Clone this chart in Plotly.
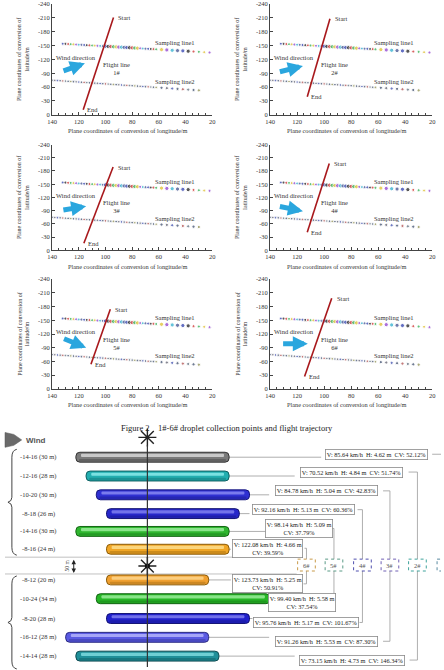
import plotly.graph_objects as go

W, H = 444, 670
SERIF = "Liberation Serif, Times New Roman, serif"

# ---------------- Figure 2 data ----------------
x_ticks = [140, 120, 100, 80, 60, 40, 20]
y_ticks = [0, -30, -60, -90, -120, -150, -180, -210, -240]

line1_x = [132, 130, 128, 126, 124, 122, 120, 118, 116, 114, 112, 110, 108, 106, 104, 102, 100, 98,
           96, 94, 92, 90, 88, 86, 84, 82, 80, 78, 76, 74, 72, 70, 68, 66, 64, 62,
           58, 54, 50, 46, 42, 38, 34, 30, 26, 22]
line1_y = [-154.0, -153.7, -153.3, -153.0, -152.6, -152.3, -151.9, -151.6, -151.2, -150.9, -150.5, -150.2,
           -149.9, -149.5, -149.2, -148.8, -148.5, -148.1, -147.8, -147.4, -147.1, -146.7, -146.4, -146.1,
           -145.7, -145.4, -145.0, -144.7, -144.3, -144.0, -143.6, -143.3, -142.9, -142.6, -142.3, -141.9,
           -141.2, -140.5, -139.8, -139.1, -138.5, -137.8, -137.1, -136.4, -135.7, -135.0]
line2_x = [140, 138, 136, 134, 132, 130, 128, 126, 124, 122, 120, 118, 116, 114, 112, 110, 108, 106, 104, 102,
           100, 98, 96, 94, 92, 90, 88, 86, 84, 82, 80, 78, 76, 74, 72, 70, 68, 66, 64, 62,
           58, 54, 50, 46, 42, 38, 34, 30]
line2_y = [-75.0, -74.6, -74.2, -73.8, -73.4, -73.0, -72.6, -72.2, -71.8, -71.4, -71.0, -70.6, -70.2, -69.8,
           -69.4, -69.0, -68.6, -68.2, -67.8, -67.4, -67.0, -66.6, -66.2, -65.8, -65.4, -65.0, -64.6, -64.2,
           -63.8, -63.4, -63.0, -62.6, -62.2, -61.8, -61.4, -61.0, -60.6, -60.2, -59.8, -59.4,
           -58.6, -57.8, -57.0, -56.2, -55.4, -54.6, -53.8, -53.0]

flight_ids = ["1#", "2#", "3#", "4#", "5#", "6#"]
flight_start_x = [94.0, 95.7, 94.3, 96.2, 96.4, 94.4]
flight_start_y = [-211, -208, -189, -197, -174, -198]
flight_end_x = [116.7, 112.5, 116.2, 112.5, 110.9, 114.5]
flight_end_y = [-11, -39, -16, -41, -54, -27]

wind_tail_x = [132.6, 133.9, 132.7, 133.9, 132.2, 131.5]
wind_tail_y = [-94, -92.5, -91, -100, -111, -98.6]
wind_head_x = [115.4, 115.7, 114.5, 115.7, 114.5, 112.1]
wind_head_y = [-111.7, -106, -100, -89, -90, -98.6]

# ---------------- Diagram data ----------------
upper_left = [-14, -12, -10, -8, -14, -8]
upper_right = [16, 16, 20, 18, 16, 16]
lower_left = [-8, -10, -8, -16, -14]
lower_right = [12, 24, 20, 12, 14]
speed_v = [85.64, 70.52, 84.78, 92.16, 98.14, 122.08, 123.73, 99.40, 95.76, 91.26, 73.15]
height_h = [4.62, 4.84, 5.04, 5.13, 5.09, 4.66, 5.25, 5.58, 5.17, 5.53, 4.73]
cv_pct = [52.12, 51.74, 42.83, 60.36, 37.79, 39.59, 50.91, 37.54, 101.67, 87.30, 146.34]
upper_flight = [1, 2, 3, 4, 5, 6]
lower_flight = [6, 5, 4, 3, 2]

# ---------------- layout helpers ----------------
def px(x):
    return x / W

def py(y):
    return 1 - y / H

cols_px = [(48, 211), (270, 435)]
rows_px = [(0, 112), (142, 249), (278, 389)]

fig = go.Figure()
layout = {}
annotations = []
shapes = []

pt_colors = ["#2233aa", "#111111", "#cc2222", "#22aa44", "#ddbb22", "#8833cc", "#22aacc", "#334488"]
pt2_colors = ["#334466", "#555566", "#3344aa", "#334466", "#aa4444", "#556677", "#334466", "#888844"]
tfont = dict(family=SERIF, size=6.5, color="#333")

for i in range(6):
    r, c = divmod(i, 2)
    xn = "x" if i == 0 else f"x{i+1}"
    yn = "y" if i == 0 else f"y{i+1}"
    xk = "xaxis" if i == 0 else f"xaxis{i+1}"
    yk = "yaxis" if i == 0 else f"yaxis{i+1}"
    (x0, x1), (y0, y1) = cols_px[c], rows_px[r]
    layout[xk] = dict(domain=[px(x0), px(x1)], anchor=yn, range=[140, 20], tickvals=x_ticks,
                      ticktext=[str(v) for v in x_ticks], ticks="inside", ticklen=3, tickcolor="#444",
                      minor=dict(ticks="inside", ticklen=2, dtick=5, tickcolor="#444"),
                      showline=True, linecolor="#444", linewidth=1, showgrid=False, zeroline=False,
                      tickfont=tfont)
    layout[yk] = dict(domain=[py(y1), py(y0)], anchor=xn, range=[0, -240], tickvals=y_ticks,
                      ticktext=[str(v) for v in y_ticks], ticks="inside", ticklen=3, tickcolor="#444",
                      showline=True, linecolor="#444", linewidth=1, showgrid=False, zeroline=False,
                      tickfont=tfont)

    s1 = [4.2 if (76 <= x <= 100 or 38 <= x <= 58) else 3.0 for x in line1_x]
    s2 = [2.6 if x > 60 else 3.2 for x in line2_x]
    fig.add_trace(go.Scatter(x=line1_x, y=line1_y, mode="markers", xaxis=xn, yaxis=yn,
                             marker=dict(size=s1, color=[pt_colors[k % len(pt_colors)] for k in range(len(line1_x))])))
    fig.add_trace(go.Scatter(x=line2_x, y=line2_y, mode="markers", xaxis=xn, yaxis=yn,
                             marker=dict(size=s2, color=[pt2_colors[k % len(pt2_colors)] for k in range(len(line2_x))])))
    fig.add_trace(go.Scatter(x=[flight_start_x[i], flight_end_x[i]], y=[flight_start_y[i], flight_end_y[i]],
                             mode="lines", xaxis=xn, yaxis=yn, line=dict(color="#a8181c", width=1.6)))

    af = dict(family=SERIF, size=6.5, color="#333")
    annotations += [
        dict(x=flight_start_x[i], y=flight_start_y[i], xref=xn, yref=yn, text="Start", showarrow=False,
             xanchor="left", xshift=3, font=af),
        dict(x=flight_end_x[i], y=flight_end_y[i], xref=xn, yref=yn, text="End", showarrow=False,
             xanchor="left", xshift=2, font=af),
        dict(x=92, y=-100, xref=xn, yref=yn, text=f"Flight line<br>{flight_ids[i]}", showarrow=False,
             xanchor="center", font=af),
        dict(x=122, y=-125, xref=xn, yref=yn, text="Wind direction", showarrow=False, xanchor="center", font=af),
        dict(x=48, y=-156, xref=xn, yref=yn, text="Sampling line1", showarrow=False, xanchor="center", font=af),
        dict(x=48, y=-73, xref=xn, yref=yn, text="Sampling line2", showarrow=False, xanchor="center", font=af),
        dict(x=wind_head_x[i], y=wind_head_y[i], ax=wind_tail_x[i], ay=wind_tail_y[i], xref=xn, yref=yn,
             axref=xn, ayref=yn, text="", showarrow=True, arrowhead=2, arrowsize=0.6, arrowwidth=5,
             arrowcolor="#2aa6de", standoff=0),
        dict(x=px((x0 + x1) / 2 - 4), y=py(y1 + 16), xref="paper", yref="paper", xanchor="center",
             yanchor="middle", text="Plane coordinates of conversion of longitude/m", showarrow=False,
             font=dict(family=SERIF, size=6.3, color="#333")),
        dict(x=px(x0 - 29), y=py((y0 + y1) / 2), xref="paper", yref="paper", textangle=-90,
             xanchor="center", yanchor="middle",
             text="Plane coordinates of conversion of<br>latitude/m", showarrow=False,
             font=dict(family=SERIF, size=6.0, color="#333")),
    ]

annotations.append(dict(x=px(226), y=py(428), xref="paper", yref="paper", showarrow=False,
                        xanchor="center", yanchor="middle",
                        text="Figure 2\u00a0\u00a0\u00a0\u00a01#-6# droplet collection points and flight trajectory",
                        font=dict(family=SERIF, size=8.5, color="#222")))

# ---------------- bottom diagram ----------------
X0PX, SCALE = 145, 5.2
def m(xpx):
    return (xpx - X0PX) / SCALE

layout["xaxis7"] = dict(domain=[0, 1], anchor="y7", range=[m(0), m(W)], visible=False)
layout["yaxis7"] = dict(domain=[0, py(437)], anchor="x7", range=[670, 437], visible=False)

upper_y = [458, 477, 496, 515, 533, 551]
lower_y = [582, 601, 621, 640, 659]
row_y = upper_y + lower_y
lefts = upper_left + lower_left
rights = upper_right + lower_right
flights = upper_flight + lower_flight

base_col = ["#7a7a7a", "#22aeb0", "#2f30d2", "#2626ca", "#2fb62f", "#f0a626",
            "#f0a030", "#26b626", "#2222cc", "#5a5ae2", "#1f8f99"]
hi_col = ["#e4e4e4", "#98f2f2", "#9494f6", "#8c8cf4", "#aaf4aa", "#ffe49a",
          "#ffdc98", "#aaf4aa", "#8c8cf4", "#c0c0ff", "#8ae4e8"]
dark_col = ["#333333", "#0e5e60", "#15157a", "#121270", "#136613", "#8a5a08",
            "#8a5a08", "#106010", "#101070", "#2a2a80", "#0c4a50"]

fig.add_trace(go.Bar(orientation="h", y=row_y, base=lefts, x=[r - l for l, r in zip(lefts, rights)],
                     width=10, xaxis="x7", yaxis="y7",
                     marker=dict(color=base_col, line=dict(color=dark_col, width=1))))
fig.add_trace(go.Bar(orientation="h", y=[y - 1.8 for y in row_y], base=[l + 1.0 for l in lefts],
                     x=[r - l - 2.0 for l, r in zip(lefts, rights)], width=3.2, xaxis="x7", yaxis="y7",
                     marker=dict(color=hi_col, opacity=0.75, line=dict(width=0))))
fig.add_trace(go.Bar(orientation="h", y=[y + 3.0 for y in row_y], base=[l + 0.6 for l in lefts],
                     x=[r - l - 1.2 for l, r in zip(lefts, rights)], width=2.4, xaxis="x7", yaxis="y7",
                     marker=dict(color=dark_col, opacity=0.35, line=dict(width=0))))

# row labels
for l, r, y in zip(lefts, rights, row_y):
    annotations.append(dict(x=px(34), y=py(y), xref="paper", yref="paper", showarrow=False,
                            xanchor="center", yanchor="middle",
                            text=f"-{abs(l)}-{r} ({r - l} m)", font=dict(family=SERIF, size=6.5, color="#333")))

# boxes: (left px, right px, center y px)
box_pos = [(322, 435, 455), (295, 411, 473), (269, 385, 492), (249, 359, 511), (266, 333, 530),
           (230, 305, 550), (230, 304, 586), (272, 332, 605), (252, 361, 625), (269, 385, 644),
           (295, 412, 663)]
two_line = {4, 5, 6, 7}
flight_col_px = {1: 449, 2: 420, 3: 392, 4: 364, 5: 335, 6: 307}
flight_box_col = {1: "#5a8aa0", 2: "#3fa39c", 3: "#7060b4", 4: "#4f4fae", 5: "#5a9a86", 6: "#c89a48"}
grey = "#9a9a9a"

for k in range(11):
    bl, br, by = box_pos[k]
    v, h, cv = speed_v[k], height_h[k], cv_pct[k]
    if k in two_line:
        txt = f"V: {v:.2f} km/h\u00a0\u00a0H: {h:.2f} m<br>CV: {cv:.2f}%"
    else:
        txt = f"V: {v:.2f} km/h\u00a0\u00a0H: {h:.2f} m\u00a0\u00a0CV: {cv:.2f}%"
    annotations.append(dict(x=px((bl + br) / 2), y=py(by), xref="paper", yref="paper", showarrow=False,
                            xanchor="center", yanchor="middle",
                            text=txt, bgcolor="white", bordercolor="#8a8a8a", borderwidth=0.8, borderpad=1,
                            font=dict(family=SERIF, size=6.3, color="#222")))
    # connector bar -> box
    shapes.append(dict(type="line", xref="x7", yref="y7", x0=rights[k], x1=m(bl), y0=row_y[k], y1=row_y[k],
                       line=dict(color=grey, width=0.8), layer="below"))
    col = flight_col_px[flights[k]]
    shapes.append(dict(type="line", xref="x7", yref="y7", x0=m(br), x1=m(col), y0=by, y1=by,
                       line=dict(color=grey, width=0.8)))
    ytarget = 561 if k < 6 else 573
    shapes.append(dict(type="line", xref="x7", yref="y7", x0=m(col), x1=m(col), y0=by, y1=ytarget,
                       line=dict(color=grey, width=0.8)))

for f in range(1, 7):
    col = flight_col_px[f]
    shapes.append(dict(type="rect", xref="x7", yref="y7", x0=m(col - 9), x1=m(col + 9), y0=561, y1=573,
                       line=dict(color=flight_box_col[f], width=1, dash="dot"), fillcolor="white"))
    if col + 9 <= W:
        annotations.append(dict(x=px(col), y=py(567), xref="paper", yref="paper", showarrow=False,
                                xanchor="center", yanchor="middle",
                                text=f"{f}#", font=dict(family=SERIF, size=6.5, color="#555")))

# separators, centre line
for yy in (559, 576):
    shapes.append(dict(type="line", xref="x7", yref="y7", x0=m(0), x1=m(297), y0=yy, y1=yy,
                       line=dict(color="#b0b0b0", width=0.8), layer="below"))
shapes.append(dict(type="line", xref="x7", yref="y7", x0=0, x1=0, y0=446, y1=670,
                   line=dict(color="#333", width=1.2), layer="above"))

# braces
def P(xp, yp):
    return f"{px(xp):.5f},{py(yp):.5f}"

for (ya, yb) in ((450, 557), (578, 672)):
    ym = (ya + yb) / 2
    path = (f"M {P(12, ya)} Q {P(7, ya + 1)} {P(7, ya + 8)} L {P(7, ym - 5)} Q {P(7, ym - 1)} {P(3, ym)} "
            f"Q {P(7, ym + 1)} {P(7, ym + 5)} L {P(7, yb - 8)} Q {P(7, yb - 1)} {P(12, yb)}")
    shapes.append(dict(type="path", xref="paper", yref="paper", path=path, line=dict(color="#444", width=1)))

# wind arrow
wpath = f"M {P(0, 433)} L {P(9, 435)} L {P(17, 440.5)} L {P(9, 446)} L {P(0, 448)} Z"
shapes.append(dict(type="path", xref="paper", yref="paper", path=wpath, fillcolor="#6a6a6a",
                   line=dict(color="#555", width=0.5)))
annotations.append(dict(x=px(19), y=py(441), xref="paper", yref="paper", showarrow=False, xanchor="left",
                        yanchor="middle",
                        text="<b>Wind</b>", font=dict(family="Liberation Sans, Arial", size=8, color="#555")))

# 50 m marker
annotations.append(dict(x=px(63), y=py(567.5), xref="paper", yref="paper", showarrow=False, textangle=-90,
                        xanchor="center", yanchor="middle",
                        text="50 m", font=dict(family=SERIF, size=5.5, color="#333")))
annotations.append(dict(x=m(70), y=575, ax=m(70), ay=560, xref="x7", yref="y7", axref="x7", ayref="y7",
                        text="", showarrow=True, arrowside="end+start", arrowhead=2, arrowsize=0.9,
                        arrowwidth=1, arrowcolor="#222", standoff=0, startstandoff=0))

# drones
fig.add_trace(go.Scatter(x=[0, 0], y=[438, 568], mode="markers", xaxis="x7", yaxis="y7", cliponaxis=False,
                         marker=dict(symbol="asterisk-open", size=15, color="#222",
                                     line=dict(color="#222", width=1.4))))
fig.add_trace(go.Scatter(x=[0], y=[568], mode="markers", xaxis="x7", yaxis="y7", cliponaxis=False,
                         marker=dict(symbol="circle", size=5, color="#111")))

layout.update(dict(width=W, height=H, margin=dict(l=0, r=0, t=0, b=0), showlegend=False,
                   plot_bgcolor="white", paper_bgcolor="white", barmode="overlay", barcornerradius=4,
                   annotations=annotations, shapes=shapes))
fig.update_layout(**layout)
fig.write_html("out.html")
